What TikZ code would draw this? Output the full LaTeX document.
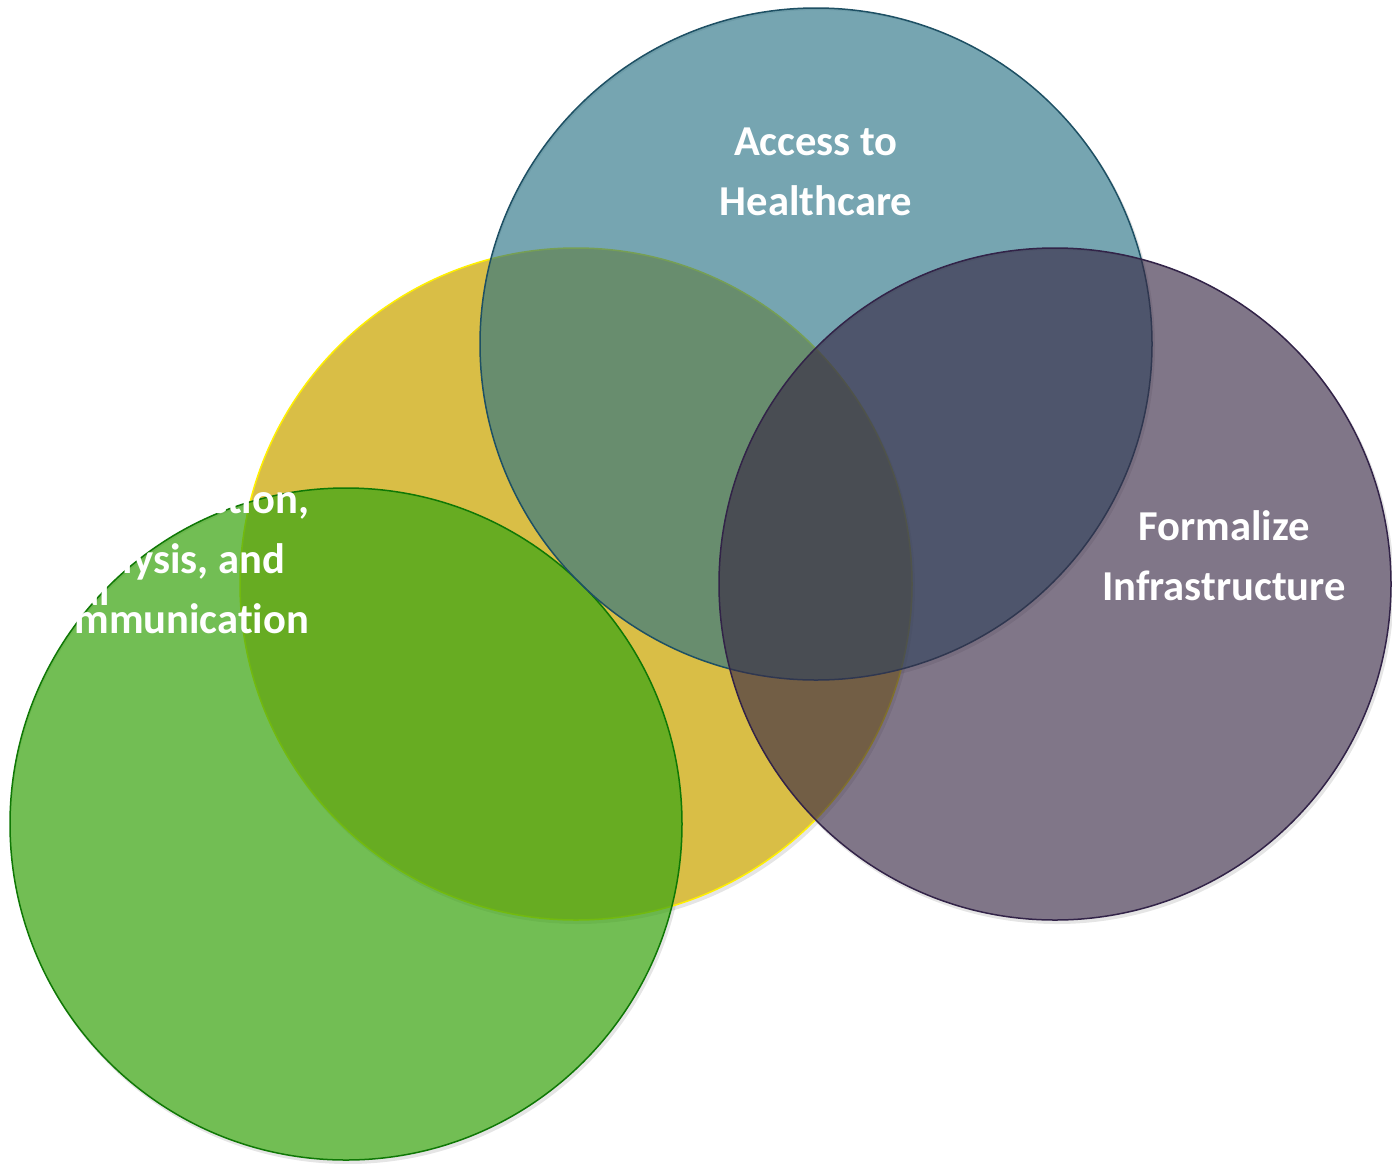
\documentclass[tikz,border=0pt]{standalone}
\usepackage{fontspec}
\setmainfont{Carlito}[Ligatures=NoCommon]
\definecolor{yfill}{RGB}{217,190,70}
\definecolor{yline}{RGB}{255,240,0}
\definecolor{gfill}{RGB}{62,166,21}
\definecolor{gline}{RGB}{15,120,5}
\definecolor{bfill}{RGB}{41,114,133}
\definecolor{bline}{RGB}{30,80,100}
\definecolor{pfill}{RGB}{57,41,69}
\definecolor{pline}{RGB}{50,35,72}
\tikzset{
  venn/.style={circle, inner sep=0pt, outer sep=0pt, minimum size=672pt, line width=1.5pt},
  shade ring/.style={fill=black, fill opacity=0.10, even odd rule},
  lbl/.style={align=center, text=white, font=\bfseries\fontsize{42.6}{60}\selectfont, inner sep=0pt}
}
\begin{document}
\begin{tikzpicture}[x=1pt,y=-1pt]
\useasboundingbox (0,0) rectangle (1392,1163);
% soft shadows (outside only)
\foreach \cx/\cy in {576/584, 346/824, 816/344, 1055/584}{
  \path[shade ring] (\cx+2,\cy+3) circle [radius=337] (\cx,\cy) circle [radius=336];
}
\node[venn, fill=yfill, draw=yline] (yellow) at (576,584) {};
\node[venn, fill=gfill, fill opacity=0.73, draw=gline] (green) at (346,824) {};
\node[venn, fill=bfill, fill opacity=0.64, draw=bline] (blue) at (816,344) {};
\node[venn, fill=pfill, fill opacity=0.64, draw=pline] (purple) at (1055,584) {};
\node[lbl] (access) at (816,172) {Access to\\Healthcare};
\node[lbl] (formal) at (1224,556) {Formalize\\Infrastructure};
\node[lbl] (data) at (169,559) {Data Collection,\\Analysis, and\\Communication};
\node[lbl, anchor=base east] (frag) at (110,605) {al};
\end{tikzpicture}
\end{document}
